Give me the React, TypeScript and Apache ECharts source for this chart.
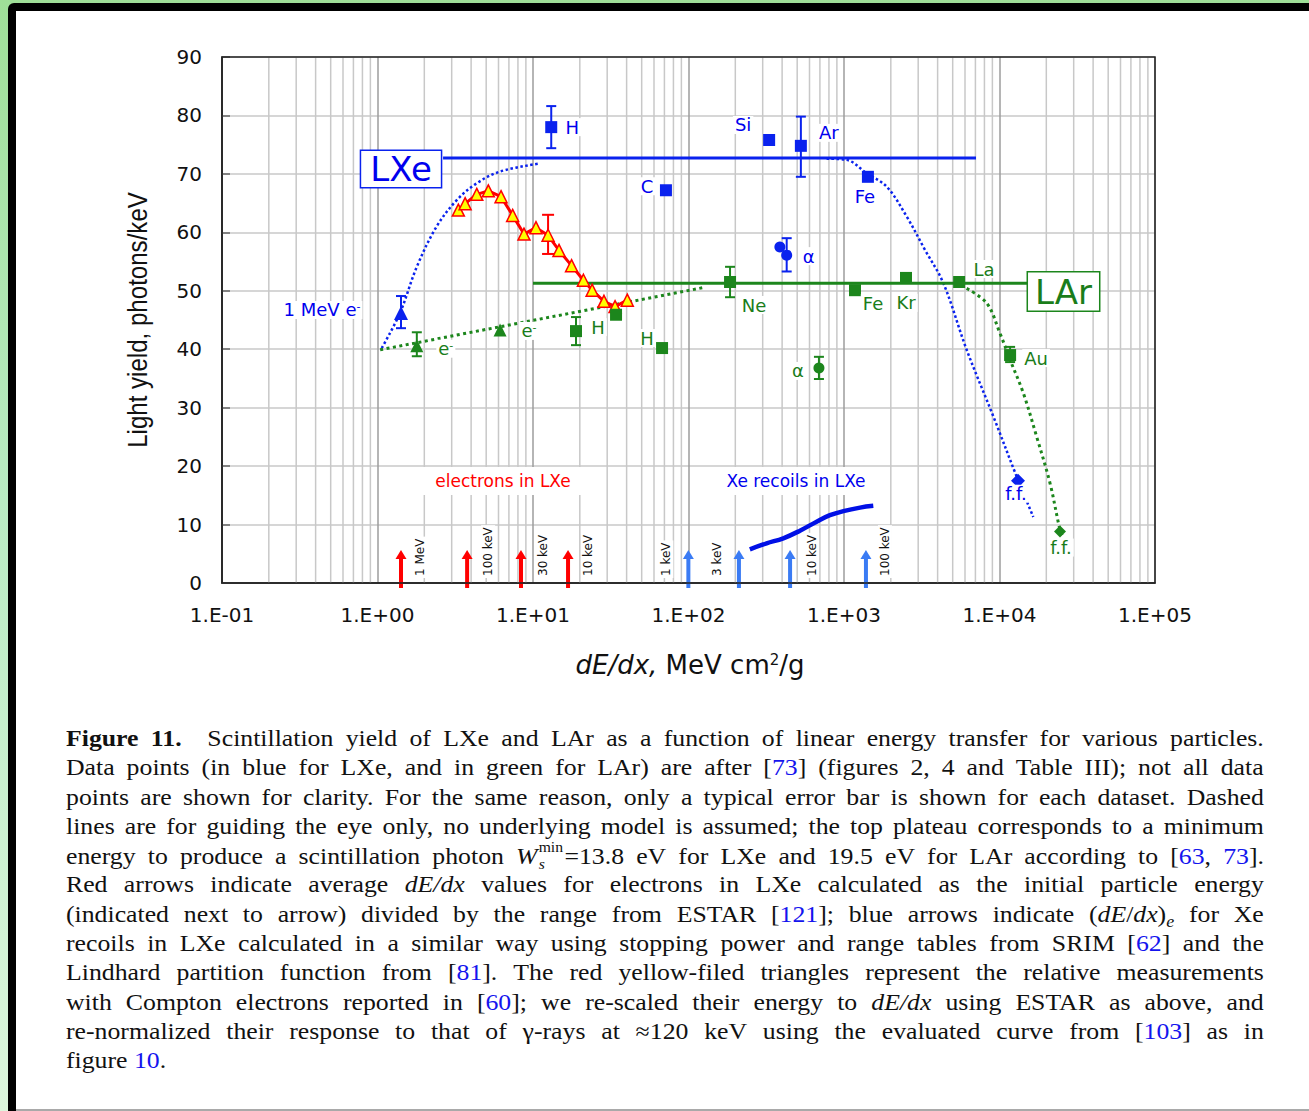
import React, { useEffect, useRef } from 'react';
import * as echarts from 'echarts';

// ---------------- data ----------------
const xTickLabels = ['1.E-01', '1.E+00', '1.E+01', '1.E+02', '1.E+03', '1.E+04', '1.E+05'];

// LXe guide lines
const lxePlateauX = [2.64, 7060];
const lxePlateauY = [72.7, 72.7];
const lxeRiseX = [1.065, 1.395, 1.79, 2.4, 3.23, 4.35, 6.14, 11.1];
const lxeRiseY = [40.2, 46.2, 54.1, 61.0, 65.5, 68.4, 70.4, 71.8];
const lxeFallX = [773, 1040, 1400, 1884, 2530, 3318, 4355, 6150, 9130, 12900, 16500];
const lxeFallY = [72.6, 72.4, 70.1, 67.8, 62.7, 57.0, 51.3, 39.9, 28.5, 18.2, 11.3];

// LAr guide lines
const larPlateauX = [10, 15240];
const larPlateauY = [51.3, 51.3];
const larLowX = [1.04, 128];
const larLowY = [39.9, 50.6];
const larFallX = [6150, 8270, 10080, 11690, 14230, 17350, 21120, 24490, 25600];
const larFallY = [50.4, 47.9, 42.7, 38.2, 32.5, 25.0, 17.1, 9.1, 7.9];

// Xe recoils in LXe curve
const recoilX = [248, 318, 407, 521, 667, 812, 991, 1268, 1543];
const recoilY = [5.77, 6.79, 7.65, 8.95, 10.5, 11.6, 12.3, 12.9, 13.2];

// Compton electrons (red / yellow triangles)
const comptonX = [3.31, 3.66, 4.35, 5.16, 6.23, 7.4, 8.75, 10.45, 12.5, 14.7, 17.7, 21.1, 24.0, 28.6, 33.7, 40.4];
const comptonY = [63.8, 64.9, 66.5, 67.1, 66.1, 62.9, 59.7, 60.8, 59.5, 56.9, 54.3, 51.8, 50.1, 48.2, 47.3, 48.4];
const comptonErrX = [12.5];
const comptonErrLo = [56.3];
const comptonErrHi = [63.0];

// LXe points
const blueSquareX = [13.1, 330, 528, 71.6, 1425];
const blueSquareY = [78.0, 75.8, 74.8, 67.2, 69.5];
const blueSquareNames = ['H', 'Si', 'Ar', 'C', 'Fe'];
const blueTriX = [1.416];
const blueTriY = [46.2];
const blueTriNames = ['1 MeV e-'];
const blueCircleX = [387, 428];
const blueCircleY = [57.5, 56.1];
const blueCircleNames = ['', 'α'];
const blueDiamondX = [13150];
const blueDiamondY = [17.5];
const blueDiamondNames = ['f.f.'];
const blueErrX = [13.1, 528, 428, 1.416];
const blueErrLo = [74.4, 69.5, 53.3, 43.6];
const blueErrHi = [81.6, 79.8, 59.0, 49.1];

// LAr points
const greenSquareX = [18.9, 34.2, 67.6, 185, 1177, 2505, 5500, 11700];
const greenSquareY = [43.1, 45.9, 40.2, 51.5, 50.1, 52.2, 51.5, 39.0];
const greenSquareNames = ['H', '', 'H', 'Ne', 'Fe', 'Kr', 'La', 'Au'];
const greenTriX = [1.79, 6.14];
const greenTriY = [40.6, 43.3];
const greenTriNames = ['e-', 'e-'];
const greenCircleX = [690];
const greenCircleY = [36.8];
const greenCircleNames = ['α'];
const greenDiamondX = [24500];
const greenDiamondY = [8.8];
const greenDiamondNames = ['f.f.'];
const greenErrX = [1.79, 18.9, 185, 690, 11700];
const greenErrLo = [38.8, 40.7, 48.9, 34.9, 37.8];
const greenErrHi = [42.9, 45.5, 54.1, 38.7, 40.4];

// arrows
const redArrowX = [1.416, 3.77, 8.37, 16.8];
const redArrowLabels = ['1 MeV', '100 keV', '30 keV', '10 keV'];
const blueArrowX = [99.8, 211, 450, 1384];
const blueArrowLabels = ['1 keV', '3 keV', '10 keV', '100 keV'];

// ---------------- layout / style ----------------
const FONT = "'DejaVu Sans', Verdana, sans-serif";
const BLUE = '#0a22ee';
const BLUE_TEXT = '#0000ee';
const GREEN = '#1c861c';
const GREEN_TEXT = '#1a7d1a';
const RED = '#ff0000';
const ARROW_BLUE = '#3a7bf4';

const blueSquareOffsets = [[21, 0], [-26, -15], [28, -13], [-19, -4], [-3, 20]];
const blueTriOffsets = [[-79, -3]];
const blueCircleOffsets = [[0, 0], [22, 1]];
const blueDiamondOffsets = [[-2, 13]];
const greenSquareOffsets = [[22, -4], [0, 0], [-15, -10], [24, 23], [18, 13], [0, 25], [25, -13], [26, 3]];
const greenTriOffsets = [[29, 3], [29, 1]];
const greenCircleOffsets = [[-21, 3]];
const greenDiamondOffsets = [[1, 16]];
const redArrowLabelDx = [19, 21, 22, 20];
const blueArrowLabelDx = [-22, -22, 22, 19];

const zip = (xs: number[], ys: number[]) => xs.map((x, i) => [x, ys[i]]);

const minorGridX: number[] = [];
for (let d = -1; d <= 4; d++) {
  for (let k = 2; k <= 9; k++) minorGridX.push(k * Math.pow(10, d));
}

function lineSeries(xs: number[], ys: number[], color: string, width: number, type: any, smooth: any, z: number) {
  return {
    type: 'line',
    data: zip(xs, ys),
    symbol: 'none',
    showSymbol: false,
    smooth,
    z,
    silent: true,
    lineStyle: { color, width, type, cap: 'butt' },
  };
}

function fmtName(n: string) {
  if (n.endsWith(' e-') || n === 'e-') return '{b|' + n.slice(0, -1) + '}{s|-}';
  return n;
}

function scatterSeries(xs: number[], ys: number[], names: string[], offsets: number[][], symbol: string, size: number, color: string, textColor: string) {
  return {
    type: 'scatter',
    symbol,
    symbolSize: size,
    z: 6,
    silent: true,
    itemStyle: { color, opacity: 1 },
    label: {
      position: 'inside',
      fontFamily: FONT,
      fontSize: 18,
      color: textColor,
      backgroundColor: '#fff',
      padding: [0, 2],
      rich: {
        b: { fontFamily: FONT, fontSize: 18, color: textColor },
        s: { fontFamily: FONT, fontSize: 11, color: textColor, verticalAlign: 'top' },
      },
    },
    data: xs.map((x, i) => ({
      value: [x, ys[i]],
      label: names[i]
        ? { show: true, formatter: fmtName(names[i]), offset: offsets[i] }
        : { show: false },
    })),
  };
}

function errorSeries(xs: number[], lo: number[], hi: number[], color: string, cap: number) {
  return {
    type: 'custom',
    z: 5,
    silent: true,
    clip: false,
    data: xs.map((x, i) => [x, lo[i], hi[i]]),
    encode: { x: 0, y: [1, 2] },
    renderItem: (_p: any, api: any) => {
      const a = api.coord([api.value(0), api.value(1)]);
      const b = api.coord([api.value(0), api.value(2)]);
      const st = { stroke: color, lineWidth: 2 };
      return {
        type: 'group',
        children: [
          { type: 'line', shape: { x1: a[0], y1: a[1], x2: b[0], y2: b[1] }, style: st },
          { type: 'line', shape: { x1: a[0] - cap, y1: a[1], x2: a[0] + cap, y2: a[1] }, style: st },
          { type: 'line', shape: { x1: b[0] - cap, y1: b[1], x2: b[0] + cap, y2: b[1] }, style: st },
        ],
      };
    },
  };
}

function arrowSeries(xs: number[], labels: string[], dxs: number[], color: string) {
  return {
    type: 'custom',
    z: 7,
    silent: true,
    clip: false,
    data: xs.map((x) => [x, 0]),
    encode: { x: 0, y: 1 },
    renderItem: (params: any, api: any) => {
      const p = api.coord([api.value(0), 0]);
      const x = p[0];
      const base = p[1];
      const tip = base - 33;
      const bottom = base + 5;
      const headH = 9;
      const headW = 5.5;
      return {
        type: 'group',
        children: [
          { type: 'rect', shape: { x: x - 2, y: tip + headH - 1, width: 4, height: bottom - (tip + headH - 1) }, style: { fill: color } },
          { type: 'polygon', shape: { points: [[x - headW, tip + headH], [x + headW, tip + headH], [x, tip]] }, style: { fill: color } },
          {
            type: 'text',
            x: x + dxs[params.dataIndex],
            y: base - 5,
            rotation: Math.PI / 2,
            style: {
              text: labels[params.dataIndex],
              fill: '#111',
              fontSize: 12,
              fontFamily: FONT,
              align: 'left',
              verticalAlign: 'middle',
              textAlign: 'left',
              textVerticalAlign: 'middle',
              backgroundColor: '#fff',
              padding: [1, 2, 1, 2],
            },
          },
        ],
      };
    },
  };
}

function buildOption(): any {
  return {
    animation: false,
    backgroundColor: 'transparent',
    grid: { left: 222, right: 154, top: 57, bottom: 117, containLabel: false, outerBoundsMode: 'none' },
    xAxis: {
      type: 'log',
      logBase: 10,
      min: 0.1,
      max: 100000,
      splitNumber: 6,
      axisLine: { show: true, onZero: false, lineStyle: { color: '#222', width: 1.5 } },
      axisTick: { show: false },
      minorTick: { show: false },
      axisLabel: {
        fontSize: 20,
        fontFamily: FONT,
        color: '#111',
        margin: 22,
        formatter: (v: number) => {
          const e = Math.round(Math.log10(v));
          return xTickLabels[e + 1] ?? '';
        },
      },
      splitLine: { show: true, lineStyle: { color: '#9c9c9c', width: 1.5 } },
    },
    yAxis: {
      type: 'value',
      min: 0,
      max: 90,
      interval: 10,
      axisLine: { show: true, onZero: false, lineStyle: { color: '#222', width: 1.5 } },
      axisTick: { show: true, inside: true, length: 8, lineStyle: { color: '#666', width: 1.5 } },
      axisLabel: { fontSize: 20, fontFamily: FONT, color: '#111', margin: 20 },
      splitLine: { show: true, lineStyle: { color: '#c8c8c8', width: 1.5 } },
    },
    series: [
      {
        type: 'custom',
        z: 1,
        silent: true,
        data: minorGridX.map((v) => [v, 0]),
        encode: { x: 0, y: 1 },
        renderItem: (_p: any, api: any) => {
          const a = api.coord([api.value(0), 0]);
          const b = api.coord([api.value(0), 90]);
          return { type: 'line', shape: { x1: a[0], y1: a[1], x2: b[0], y2: b[1] }, style: { stroke: '#c8c8c8', lineWidth: 1.5 } };
        },
      },
      lineSeries(lxePlateauX, lxePlateauY, BLUE, 3, 'solid', false, 3),
      lineSeries(lxeRiseX, lxeRiseY, BLUE, 2.5, [2.5, 2.5], 0.35, 3),
      lineSeries(lxeFallX, lxeFallY, BLUE, 2.5, [2.5, 2.5], 0.35, 3),
      lineSeries(larPlateauX, larPlateauY, GREEN, 3, 'solid', false, 3),
      lineSeries(larLowX, larLowY, GREEN, 3, [3, 3.5], false, 3),
      lineSeries(larFallX, larFallY, GREEN, 3, [3, 3.5], 0.35, 3),
      lineSeries(recoilX, recoilY, '#0010e6', 4.5, 'solid', 0.4, 3),
      {
        type: 'line',
        data: zip(comptonX, comptonY),
        symbol: 'triangle',
        symbolSize: 12,
        showSymbol: true,
        z: 6,
        silent: true,
        lineStyle: { color: RED, width: 3 },
        itemStyle: { color: '#ffff00', borderColor: RED, borderWidth: 1.5 },
      },
      errorSeries(comptonErrX, comptonErrLo, comptonErrHi, RED, 6),
      errorSeries(blueErrX, blueErrLo, blueErrHi, BLUE, 5),
      errorSeries(greenErrX, greenErrLo, greenErrHi, GREEN, 5),
      scatterSeries(blueSquareX, blueSquareY, blueSquareNames, blueSquareOffsets, 'rect', 12, BLUE, BLUE_TEXT),
      scatterSeries(blueTriX, blueTriY, blueTriNames, blueTriOffsets, 'triangle', 14, BLUE, BLUE_TEXT),
      scatterSeries(blueCircleX, blueCircleY, blueCircleNames, blueCircleOffsets, 'circle', 11, BLUE, BLUE_TEXT),
      scatterSeries(blueDiamondX, blueDiamondY, blueDiamondNames, blueDiamondOffsets, 'diamond', 14, BLUE, BLUE_TEXT),
      scatterSeries(greenSquareX, greenSquareY, greenSquareNames, greenSquareOffsets, 'rect', 12, GREEN, GREEN_TEXT),
      scatterSeries(greenTriX, greenTriY, greenTriNames, greenTriOffsets, 'triangle', 13, GREEN, GREEN_TEXT),
      scatterSeries(greenCircleX, greenCircleY, greenCircleNames, greenCircleOffsets, 'circle', 11, GREEN, GREEN_TEXT),
      scatterSeries(greenDiamondX, greenDiamondY, greenDiamondNames, greenDiamondOffsets, 'diamond', 12, GREEN, GREEN_TEXT),
      arrowSeries(redArrowX, redArrowLabels, redArrowLabelDx, RED),
      arrowSeries(blueArrowX, blueArrowLabels, blueArrowLabelDx, ARROW_BLUE),
    ],
    graphic: [
      { type: 'rect', z: 10, shape: { x: 380, y: 467, width: 218, height: 28 }, style: { fill: '#fff' } },
      { type: 'rect', z: 10, shape: { x: 690, y: 467, width: 190, height: 28 }, style: { fill: '#fff' } },
      {
        type: 'text', z: 11, x: 503, y: 481,
        style: { text: 'electrons in LXe', fill: RED, fontSize: 17, fontFamily: FONT, align: 'center', verticalAlign: 'middle', textAlign: 'center', textVerticalAlign: 'middle' },
      },
      {
        type: 'text', z: 11, x: 796, y: 481,
        style: { text: 'Xe recoils in LXe', fill: BLUE_TEXT, fontSize: 17, fontFamily: FONT, align: 'center', verticalAlign: 'middle', textAlign: 'center', textVerticalAlign: 'middle' },
      },
      {
        type: 'text', z: 12, x: 401, y: 169,
        style: {
          text: 'LXe', fill: BLUE_TEXT, fontSize: 34, fontFamily: FONT,
          align: 'center', verticalAlign: 'middle', textAlign: 'center', textVerticalAlign: 'middle',
          backgroundColor: '#fff', borderColor: BLUE, borderWidth: 1.5, padding: [1, 9, 1, 9],
        },
      },
      {
        type: 'text', z: 12, x: 1063.5, y: 291.5,
        style: {
          text: 'LAr', fill: GREEN_TEXT, fontSize: 34, fontFamily: FONT,
          align: 'center', verticalAlign: 'middle', textAlign: 'center', textVerticalAlign: 'middle',
          backgroundColor: '#fff', borderColor: GREEN, borderWidth: 1.5, padding: [2, 7, 2, 7],
        },
      },
      {
        type: 'rect', z: 20, shape: { x: 222, y: 57, width: 933, height: 526 },
        style: { fill: 'none', stroke: '#222', lineWidth: 1.5 },
      },
      {
        type: 'text', z: 12, x: 137, y: 320, rotation: Math.PI / 2, scaleX: 0.86,
        style: {
          text: 'Light yield, photons/keV', fill: '#111', fontSize: 28,
          fontFamily: "'Liberation Sans', Arial, sans-serif",
          align: 'center', verticalAlign: 'middle', textAlign: 'center', textVerticalAlign: 'middle',
        },
      },
      {
        type: 'text', z: 12, x: 690, y: 665,
        style: {
          text: '{i|dE/dx,} {n|MeV cm}{s|2}{n|/g}',
          align: 'center', verticalAlign: 'middle', textAlign: 'center', textVerticalAlign: 'middle',
          fill: '#111', fontSize: 26, fontFamily: FONT,
          rich: {
            i: { fontSize: 26, fontFamily: FONT, fontStyle: 'italic', fill: '#111', color: '#111' },
            n: { fontSize: 26, fontFamily: FONT, fill: '#111', color: '#111' },
            s: { fontSize: 15, fontFamily: FONT, fill: '#111', color: '#111', verticalAlign: 'top' },
          },
        },
      },
    ],
  };
}

// ---------------- caption ----------------
const captionLines: string[] = [
  'Figure 11. Scintillation yield of LXe and LAr as a function of linear energy transfer for various particles.',
  'Data points (in blue for LXe, and in green for LAr) are after [73] (figures 2, 4 and Table III); not all data',
  'points are shown for clarity. For the same reason, only a typical error bar is shown for each dataset. Dashed',
  'lines are for guiding the eye only, no underlying model is assumed; the top plateau corresponds to a minimum',
  'energy to produce a scintillation photon §W=13.8 eV for LXe and 19.5 eV for LAr according to [63, 73].',
  'Red arrows indicate average dE/dx values for electrons in LXe calculated as the initial particle energy',
  '(indicated next to arrow) divided by the range from ESTAR [121]; blue arrows indicate §DE for Xe',
  'recoils in LXe calculated in a similar way using stopping power and range tables from SRIM [62] and the',
  'Lindhard partition function from [81]. The red yellow-filed triangles represent the relative measurements',
  'with Compton electrons reported in [60]; we re-scaled their energy to dE/dx using ESTAR as above, and',
  're-normalized their response to that of γ-rays at ≈120 keV using the evaluated curve from [103] as in',
  'figure 10.',
];
const LINK = '#1414ee';

function renderWord(w: string, li: number, wi: number): React.ReactNode {
  if (w === '§W=13.8') {
    return (
      <span>
        <i style={{ marginRight: 1 }}>W</i>
        <span style={{ display: 'inline-block', position: 'relative', width: 23, height: 23 }}>
          <span style={{ position: 'absolute', left: 0, top: 0, fontSize: 14, lineHeight: '13px' }}>min</span>
          <span style={{ position: 'absolute', left: 0, top: 17, fontSize: 14, lineHeight: '13px', fontStyle: 'italic' }}>s</span>
        </span>
        =13.8
      </span>
    );
  }
  if (w === '§DE') {
    return (
      <span>
        (<i>dE</i>/<i>dx</i>)
        <span style={{ fontSize: 16, fontStyle: 'italic', position: 'relative', top: 5 }}>e</span>
      </span>
    );
  }
  if (w === 'dE/dx') return <i>dE/dx</i>;
  if (/[\[\]]/.test(w) || (li === captionLines.length - 1 && w === '10.')) {
    const parts = w.split(/(\d+)/);
    return (
      <span>
        {parts.map((p, i) => (/^\d+$/.test(p) ? <span key={i} style={{ color: LINK }}>{p}</span> : <span key={i}>{p}</span>))}
      </span>
    );
  }
  if (li === 0 && wi < 2) return <b style={{ marginRight: wi === 1 ? 12 : 0 }}>{w}</b>;
  return w;
}

function Caption() {
  const scale = 1.12;
  return (
    <div
      style={{
        position: 'absolute',
        left: 66,
        top: 724,
        width: 1198 / scale,
        transform: `scaleX(${scale})`,
        transformOrigin: 'left top',
        fontFamily: "'Liberation Serif', 'Times New Roman', serif",
        fontSize: 23,
        color: '#111',
      }}
    >
      {captionLines.map((line, li) => {
        const last = li === captionLines.length - 1;
        return (
          <div
            key={li}
            style={{
              display: 'flex',
              justifyContent: last ? 'flex-start' : 'space-between',
              gap: last ? '0.25em' : '3px',
              alignItems: 'baseline',
              height: 29.3,
              lineHeight: '29.3px',
              whiteSpace: 'nowrap',
            }}
          >
            {line.split(' ').map((w, wi) => (
              <span key={wi}>{renderWord(w, li, wi)}</span>
            ))}
          </div>
        );
      })}
    </div>
  );
}

function Chart() {
  const ref = useRef<HTMLDivElement>(null);
  useEffect(() => {
    if (!ref.current) return;
    const chart = echarts.init(ref.current, null, { renderer: 'svg' });
    chart.setOption(buildOption());
    return () => chart.dispose();
  }, []);
  return <div ref={ref} style={{ position: 'absolute', left: 0, top: 0, width: 1309, height: 700 }} />;
}

export default function App() {
  return (
    <div
      style={{
        position: 'fixed',
        left: 0,
        top: 0,
        width: 1309,
        height: 1111,
        overflow: 'hidden',
        background: 'linear-gradient(180deg, #9fdf98 0%, #b9ebc3 45%, #dcf6dc 100%)',
      }}
    >
      <div style={{ position: 'absolute', left: 8, top: 3, width: 1301, height: 1108, background: '#000', borderTopLeftRadius: 6 }} />
      <div style={{ position: 'absolute', left: 16, top: 11, width: 1293, height: 1098, background: '#fff' }} />
      <div style={{ position: 'absolute', left: 16, top: 1109, width: 1293, height: 2, background: '#a9a9a9' }} />
      <Chart />
      <Caption />
    </div>
  );
}
